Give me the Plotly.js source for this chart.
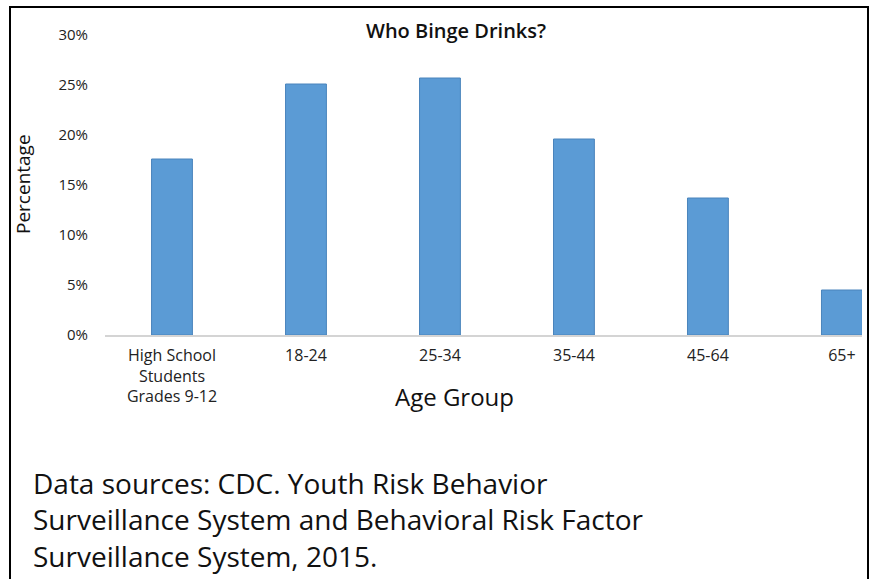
<!DOCTYPE html>
<html>
<head>
<meta charset="utf-8">
<script src="https://cdn.plot.ly/plotly-3.0.1.min.js"></script>
<style>
html,body{margin:0;padding:0;background:#fff;}
#chart{position:absolute;left:0;top:0;width:872px;height:579px;}
#frame{position:absolute;left:9px;top:6px;width:856px;height:600px;border:2.5px solid #000;pointer-events:none;}
</style>
</head>
<body>
<div id="chart"></div>
<div id="frame"></div>
<script>
const categories = ["High School<br>Students<br>Grades 9-12", "18-24", "25-34", "35-44", "45-64", "65+"];
const values = [17.6, 25.1, 25.7, 19.6, 13.7, 4.5];
const yTickVals = [0, 5, 10, 15, 20, 25, 30];
const yTickText = ["0%", "5%", "10%", "15%", "20%", "25%", "30%"];
const titleText = "Who Binge Drinks?";
const xTitle = "Age Group";
const yTitle = "Percentage";
const sourceLines = [
  "Data sources: CDC. Youth Risk Behavior",
  "Surveillance System and Behavioral Risk Factor",
  "Surveillance System, 2015."
];

const FONT = "Open Sans, Noto Sans, DejaVu Sans, sans-serif";
const L = 105, R = 862, T = 35, B = 335;
const px = x => (x - L) / (R - L);
const py = y => (B - y) / (B - T);

const trace = {
  type: "bar",
  x: categories.map((c, i) => i),
  y: values,
  width: 0.305,
  marker: {color: "#5B9BD5", line: {color: "#4A84BC", width: 1}},
  hoverinfo: "none"
};

const ann = [];
ann.push({
  text: sourceLines.join("<br>"),
  xref: "paper", yref: "paper",
  x: px(31), y: py(519),
  xanchor: "left", yanchor: "middle",
  showarrow: false, align: "left",
  font: {family: FONT, size: 28, color: "#111"}
});
ann.push({
  text: titleText, xref: "paper", yref: "paper",
  x: px(456), y: py(30), xanchor: "center", yanchor: "middle",
  showarrow: false,
  font: {family: FONT, size: 20, weight: 600, color: "#111"}
});
ann.push({
  text: xTitle, xref: "paper", yref: "paper",
  x: px(454), y: py(396), xanchor: "center", yanchor: "middle",
  showarrow: false,
  font: {family: FONT, size: 24, color: "#111"}
});
ann.push({
  text: yTitle, xref: "paper", yref: "paper",
  x: px(23), y: py(184), xanchor: "center", yanchor: "middle",
  textangle: -90, showarrow: false,
  font: {family: FONT, size: 19, color: "#111"}
});

const layout = {
  width: 872, height: 579,
  margin: {l: L, r: 872 - R, t: T, b: 579 - B, pad: 0},
  paper_bgcolor: "#fff", plot_bgcolor: "#fff",
  showlegend: false,
  xaxis: {
    range: [-0.5, 5.15],
    tickvals: categories.map((c, i) => i),
    ticktext: categories,
    showgrid: false, zeroline: false,
    showline: true, linecolor: "#d4d4d4", linewidth: 1.5,
    ticks: "", ticklabelstandoff: 5,
    tickfont: {family: FONT, size: 16, color: "#222"},
    fixedrange: true
  },
  yaxis: {
    range: [0, 30],
    tickvals: yTickVals,
    ticktext: yTickText,
    showgrid: false, zeroline: false, showline: false,
    ticks: "", ticklabelstandoff: 16,
    tickfont: {family: FONT, size: 15, color: "#222"},
    fixedrange: true
  },
  annotations: ann
};

Plotly.newPlot("chart", [trace], layout, {displayModeBar: false, staticPlot: true});
</script>
</body>
</html>
